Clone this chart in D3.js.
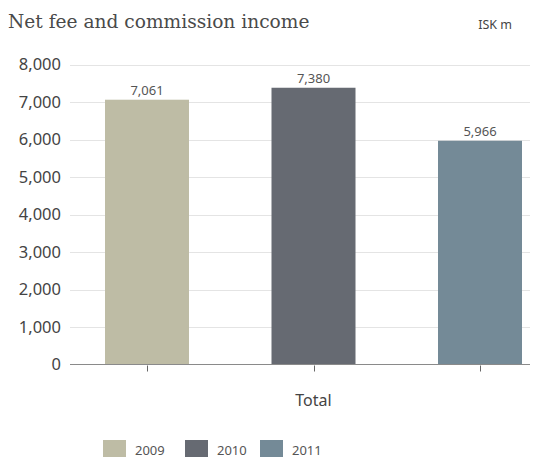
<!DOCTYPE html>
<html>
<head>
<meta charset="utf-8">
<script src="https://cdn.jsdelivr.net/npm/d3@7"></script>
<style>
  html, body { margin: 0; padding: 0; background: #fff; }
  svg { display: block; }
</style>
</head>
<body>
<svg id="chart" width="544" height="459"></svg>
<script>
// Net fee and commission income, ISK m
const category = "Total";
const years = ["2009", "2010", "2011"];
const values = [7061, 7380, 5966];
const colors = ["#bebca5", "#666a72", "#748a97"];
const yTicks = [0, 1000, 2000, 3000, 4000, 5000, 6000, 7000, 8000];

const svg = d3.select("#chart");
const plotLeft = 70, plotRight = 530, plotTop = 64.5, plotBottom = 364.5;
const sans = "'Noto Sans', 'Open Sans', sans-serif";

const y = d3.scaleLinear().domain([0, 8000]).range([plotBottom, plotTop]);
const x = d3.scalePoint().domain(years).range([147, 480]);
const barW = 84;
const fmt = d3.format(",");

// title and unit
svg.append("text")
  .attr("x", 8).attr("y", 28)
  .attr("font-family", "'DejaVu Serif', serif")
  .attr("font-size", 18.6)
  .attr("fill", "#4a4a4a")
  .text("Net fee and commission income");

svg.append("text")
  .attr("x", 512).attr("y", 29)
  .attr("text-anchor", "end")
  .attr("font-family", sans)
  .attr("font-size", 12.5)
  .attr("fill", "#444")
  .text("ISK m");

// gridlines
svg.append("g")
  .selectAll("line")
  .data(yTicks.filter(d => d > 0))
  .join("line")
  .attr("x1", plotLeft).attr("x2", plotRight)
  .attr("y1", d => Math.round(y(d)) + 0.5)
  .attr("y2", d => Math.round(y(d)) + 0.5)
  .attr("stroke", "#e4e4e4")
  .attr("stroke-width", 1);

// y axis labels
const yAxis = d3.axisLeft(y).tickValues(yTicks).tickFormat(fmt).tickSize(0).tickPadding(9);
const gy = svg.append("g").attr("transform", `translate(${plotLeft},0)`).call(yAxis);
gy.select(".domain").remove();
gy.selectAll("text")
  .attr("font-family", sans)
  .attr("font-size", 16.5)
  .attr("fill", "#444");

// bars
svg.append("g")
  .selectAll("rect")
  .data(years)
  .join("rect")
  .attr("x", d => x(d) - barW / 2)
  .attr("width", barW)
  .attr("y", (d, i) => y(values[i]))
  .attr("height", (d, i) => y(0) - y(values[i]))
  .attr("fill", (d, i) => colors[i]);

// value labels
svg.append("g")
  .selectAll("text")
  .data(years)
  .join("text")
  .attr("x", d => x(d))
  .attr("y", (d, i) => y(values[i]) - 5)
  .attr("text-anchor", "middle")
  .attr("font-family", sans)
  .attr("font-size", 13)
  .attr("fill", "#555")
  .text((d, i) => fmt(values[i]));

// x axis baseline and ticks
svg.append("line")
  .attr("x1", plotLeft).attr("x2", plotRight)
  .attr("y1", plotBottom).attr("y2", plotBottom)
  .attr("stroke", "#8a8a8a")
  .attr("stroke-width", 1.2);

svg.append("g")
  .selectAll("line")
  .data(years)
  .join("line")
  .attr("x1", d => Math.round(x(d)) + 0.5)
  .attr("x2", d => Math.round(x(d)) + 0.5)
  .attr("y1", plotBottom + 1).attr("y2", plotBottom + 7)
  .attr("stroke", "#666")
  .attr("stroke-width", 1);

svg.append("text")
  .attr("x", x(years[1]))
  .attr("y", 406)
  .attr("text-anchor", "middle")
  .attr("font-family", sans)
  .attr("font-size", 16)
  .attr("fill", "#444")
  .text(category);

// legend
const legendX = [103, 185, 260];
const lg = svg.append("g")
  .selectAll("g")
  .data(years)
  .join("g")
  .attr("transform", (d, i) => `translate(${legendX[i]},440)`);
lg.append("rect")
  .attr("width", 23).attr("height", 17)
  .attr("fill", (d, i) => colors[i]);
lg.append("text")
  .attr("x", 32).attr("y", 15)
  .attr("font-family", sans)
  .attr("font-size", 13)
  .attr("fill", "#555")
  .text(d => d);
</script>
</body>
</html>
